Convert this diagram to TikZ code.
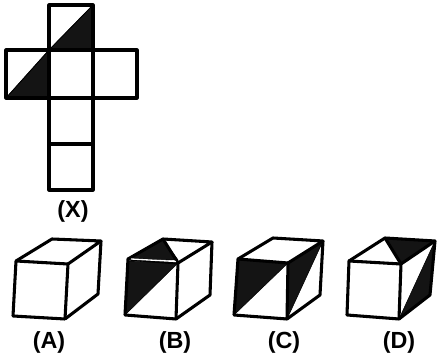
\documentclass[tikz,border=0pt]{standalone}
\usepackage{fontspec}
\setmainfont{Liberation Sans}
\begin{document}
\begin{tikzpicture}[x=0.75pt,y=-0.75pt]
  \tikzstyle{face}=[draw=black, line width=2.3pt, line join=round]
  \tikzstyle{shade}=[fill=black!92, draw=black, line width=0.4pt]
  \tikzstyle{caption}=[font=\bfseries\fontsize{17.5}{19}\selectfont, inner sep=0pt]
  \useasboundingbox (0,0) rectangle (437,359);

  % net
  \fill[shade] (49,50) -- (93,5) -- (93,50) -- cycle;
  \fill[shade] (6,98) -- (49,50) -- (49,98) -- cycle;
  \draw[face] (49,5) rectangle (93,50);
  \draw[face] (6,50) rectangle (49,98);
  \draw[face] (49,50) rectangle (93,98);
  \draw[face] (93,50) rectangle (137,98);
  \draw[face] (49,98) rectangle (93,144);
  \draw[face] (49,144) rectangle (93,190);
  \draw[line width=0.6pt] (49,50) -- (93,5);
  \draw[line width=0.6pt] (6,98) -- (49,50);
  \node[caption] (x) at (73,211) {(X)};

  % cube A
  \draw[face] (16,261) -- (68,264) -- (65,319) -- (13,316) -- cycle;
  \draw[face] (16,261) -- (52,239) -- (101,241) -- (68,264);
  \draw[face] (101,241) -- (98,294) -- (65,319);
  \node[caption] (a) at (49,342) {(A)};

  % cube B
  \fill[shade] (128,259) -- (163,239) -- (178,260) -- cycle;
  \fill[shade] (128,261) -- (178,263) -- (125,315) -- cycle;
  \draw[face] (128,259) -- (178,263) -- (176,319) -- (125,315) -- cycle;
  \draw[face] (128,259) -- (163,239) -- (212,242) -- (178,263);
  \draw[face] (212,242) -- (210,295) -- (176,319);
  \draw[face] (163,239) -- (178,263);
  \draw[white, line width=1pt] (131,259) -- (176,261.5);
  \node[caption] (b) at (175,342) {(B)};

  % cube C
  \fill[shade] (238,259) -- (288,263) -- (234,315) -- cycle;
  \fill[shade] (288,263) -- (323,241) -- (287,319) -- cycle;
  \draw[face] (238,259) -- (288,263) -- (287,319) -- (234,315) -- cycle;
  \draw[face] (238,259) -- (273,238) -- (323,241) -- (288,263);
  \draw[face] (323,241) -- (320,295) -- (287,319);
  \node[caption] (c) at (284,342) {(C)};

  % cube D
  \fill[shade] (385,238) -- (435,241) -- (401,264) -- cycle;
  \fill[shade] (399,319) -- (435,241) -- (430,295) -- cycle;
  \draw[face] (349,261) -- (401,264) -- (399,319) -- (347,315) -- cycle;
  \draw[face] (349,261) -- (385,238) -- (435,241) -- (401,264);
  \draw[face] (435,241) -- (430,295) -- (399,319);
  \draw[face] (385,238) -- (401,264);
  \node[caption] (d) at (399,342) {(D)};
\end{tikzpicture}
\end{document}
